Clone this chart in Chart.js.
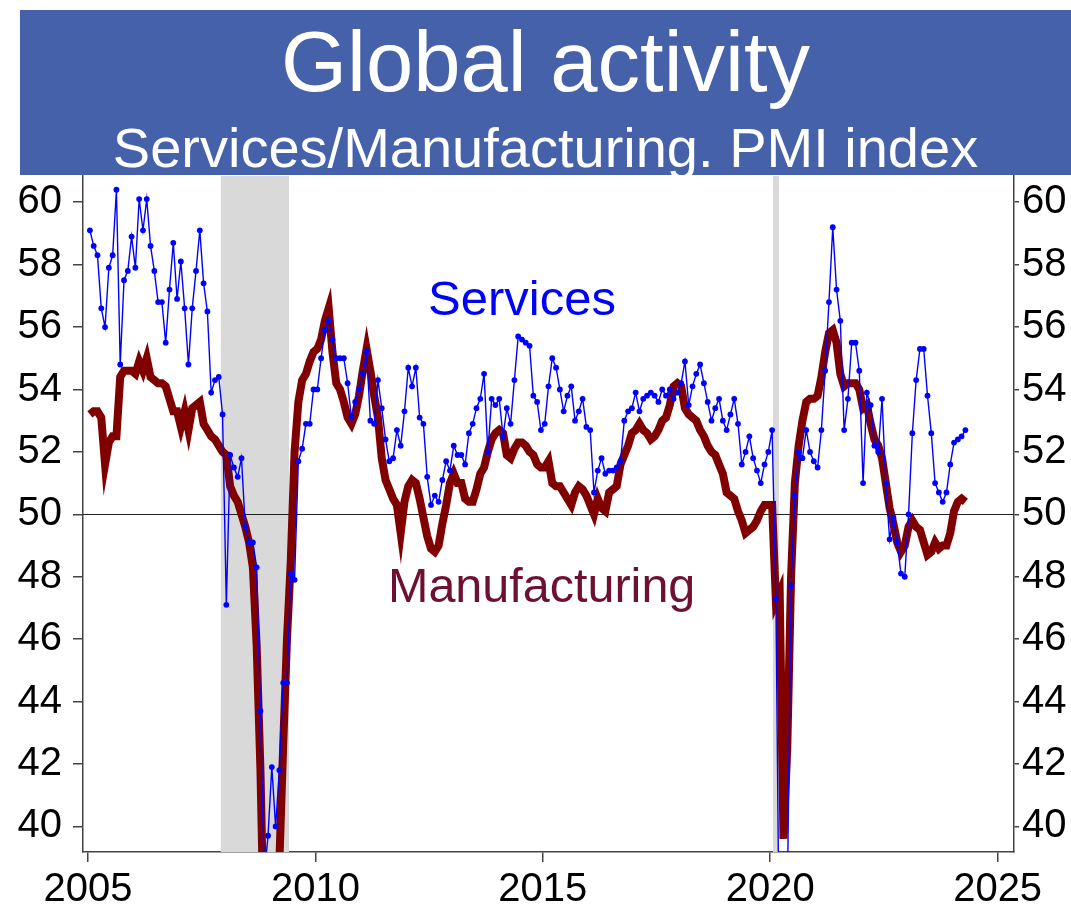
<!DOCTYPE html>
<html>
<head>
<meta charset="utf-8">
<title>Global activity</title>
<script src="https://cdn.jsdelivr.net/npm/chart.js@4/dist/chart.umd.min.js"></script>
<style>
  html, body { margin: 0; padding: 0; background: #fff; }
  #wrap { position: relative; width: 1071px; height: 908px; overflow: hidden; font-family: "Liberation Sans", Arial, sans-serif; }
  #chart { position: absolute; left: 0; top: 0; }
  .banner { position: absolute; left: 20px; top: 10px; width: 1051px; height: 165px; background: #4561a9; z-index: 2; }
  .banner div { position: absolute; left: 0; width: 100%; text-align: center; color: #fff; line-height: 1; white-space: nowrap; }
  .title { top: 9px; font-size: 85px; }
  .subtitle { top: 110px; font-size: 56px; }
  .tag { position: absolute; line-height: 1; white-space: nowrap; z-index: 2; }
  .tag.svc { left: 428px; top: 274px; font-size: 49px; color: #0000ff; }
  .tag.mfg { left: 388px; top: 561px; font-size: 48.5px; color: #6e1030; }
</style>
</head>
<body>
<div id="wrap">
  <canvas id="chart" width="1071" height="908"></canvas>
  <div class="banner">
    <div class="title">Global activity</div>
    <div class="subtitle">Services/Manufacturing. PMI index</div>
  </div>
  <div class="tag svc">Services</div>
  <div class="tag mfg">Manufacturing</div>
</div>
<script>
// Monthly PMI readings, January 2005 onwards (one row per year)
const startYear = 2005;

const services = [
  59.1, 58.6, 58.3, 56.6, 56.0, 57.9, 58.3, 60.4, 54.8, 57.5, 57.8, 58.9,
  57.9, 60.1, 59.1, 60.1, 58.6, 57.8, 56.8, 56.8, 55.5, 57.2, 58.7, 56.9,
  58.1, 56.6, 54.8, 56.6, 57.8, 59.1, 57.4, 56.5, 53.9, 54.3, 54.4, 53.2,
  47.1, 51.9, 51.5, 51.2, 51.8, 49.6, 49.1, 49.1, 48.3, 43.7, 38.4, 39.7,
  41.9, 40.0, 41.8, 44.6, 44.6, 48.1, 47.9, 51.7, 52.1, 52.9, 52.9, 54.0,
  54.0, 55.0, 55.9, 56.2, 55.6, 55.0, 55.0, 55.0, 54.2, 53.1, 53.6, 54.0,
  54.5, 55.2, 53.0, 52.9, 54.3, 53.4, 52.4, 51.7, 51.8, 52.7, 52.2, 53.3,
  54.7, 54.1, 54.7, 53.1, 52.9, 51.2, 50.3, 50.6, 50.4, 51.1, 51.7, 51.4,
  52.2, 51.9, 51.9, 51.6, 52.6, 52.9, 53.4, 53.7, 54.5, 52.0, 53.7, 53.5,
  53.7, 52.5, 53.4, 52.9, 54.3, 55.7, 55.6, 55.5, 55.4, 53.8, 53.6, 52.7,
  52.9, 54.1, 55.0, 54.7, 54.0, 53.3, 53.8, 54.1, 53.0, 53.3, 53.7, 52.8,
  52.7, 50.7, 51.4, 51.8, 51.3, 51.4, 51.4, 51.5, 51.7, 53.0, 53.3, 53.4,
  53.9, 53.3, 53.7, 53.8, 53.9, 53.8, 53.6, 54.0, 53.8, 54.0, 53.7, 53.9,
  54.2, 54.9, 53.5, 54.1, 54.5, 54.8, 54.2, 53.6, 53.0, 53.4, 53.7, 53.0,
  52.7, 53.2, 53.7, 52.9, 51.6, 52.0, 52.5, 51.8, 51.4, 51.0, 51.6, 52.0,
  52.7, 47.3, 34.5, 24.0, 37.5, 47.7, 50.6, 52.0, 51.8, 52.7, 52.0, 51.7,
  51.5, 52.7, 54.6, 56.8, 59.2, 57.2, 56.2, 52.7, 53.7, 55.5, 55.5, 54.6,
  51.0, 53.9, 53.5, 52.2, 52.0, 53.7, 51.0, 49.2, 49.9, 49.1, 48.1, 48.0,
  50.0, 52.6, 54.3, 55.3, 55.3, 53.8, 52.6, 51.0, 50.7, 50.4, 50.7, 51.6,
  52.3, 52.4, 52.5, 52.7
];

const manufacturing = [
  53.2, 53.3, 53.3, 53.1, 51.6, 52.3, 52.5, 52.5, 54.4, 54.6, 54.6, 54.6,
  54.5, 54.9, 54.6, 55.0, 54.4, 54.3, 54.2, 54.2, 54.1, 53.7, 53.3, 53.3,
  52.8, 53.3, 52.7, 53.4, 53.5, 53.6, 52.9, 52.7, 52.5, 52.4, 52.2, 52.0,
  51.9, 50.9, 50.6, 50.4, 50.0, 49.6, 49.1, 48.3, 45.8, 41.8, 36.0, 33.7,
  34.4, 35.0, 38.9, 42.6, 46.0, 48.5, 52.0, 53.6, 54.3, 54.5, 54.9, 55.2,
  55.3, 55.6, 56.2, 56.6, 55.2, 54.2, 54.0, 53.6, 53.1, 52.9, 53.2, 53.8,
  54.6, 55.3, 54.6, 53.8, 53.1, 51.8, 51.1, 50.8, 50.5, 50.3, 49.4, 50.4,
  50.9, 51.1, 51.0, 50.5, 49.9, 49.3, 48.9, 48.8, 49.0, 49.7, 50.3, 51.0,
  51.3, 51.0, 51.0, 50.5, 50.4, 50.4, 50.8, 51.3, 51.5, 52.0, 52.4, 52.6,
  52.7, 52.6, 51.9, 51.8, 52.1, 52.3, 52.3, 52.2, 52.0, 51.9, 51.6, 51.5,
  51.5, 51.7, 51.0, 50.9, 50.9, 50.7, 50.5, 50.3, 50.7, 50.9, 50.8, 50.6,
  50.3, 50.0, 50.5, 50.2, 50.1, 50.7, 50.8, 50.9, 51.6, 51.9, 52.2, 52.6,
  52.7, 52.9, 52.7, 52.6, 52.4, 52.5, 52.7, 53.0, 53.1, 53.5, 54.1, 54.2,
  54.1, 53.4, 53.2, 53.1, 53.0, 52.7, 52.5, 52.2, 52.0, 51.9, 51.6, 51.3,
  50.7, 50.6, 50.5, 50.1, 49.8, 49.4, 49.5, 49.6, 49.8, 50.1, 50.3, 50.3,
  50.3, 47.2, 47.5, 39.6, 42.5, 48.0, 51.0, 52.2, 53.0, 53.6, 53.7, 53.7,
  53.8, 54.4, 55.2, 55.8, 55.9, 55.5, 54.5, 54.1, 54.2, 54.2, 54.2, 54.0,
  53.4, 53.5, 52.9, 52.4, 52.2, 51.8, 51.0, 50.2, 49.7, 49.1, 48.8, 49.0,
  49.6, 49.8, 49.6, 49.5, 49.1, 48.7, 48.8, 49.1, 48.9, 49.0, 49.0, 49.4,
  50.1, 50.4, 50.5, 50.4
];

const xTicks = [2005, 2010, 2015, 2020, 2025];
const yTicks = [40, 42, 44, 46, 48, 50, 52, 54, 56, 58, 60];

// US recessions (decimal years), shaded grey
const recessions = [[2007.92, 2009.42], [2020.06, 2020.19]];

const FONT = '"Liberation Sans", Arial, sans-serif';
const AXIS = '#444';

// place each month in the middle of its slot on a decimal-year axis
function toPoints(values) {
  return values.map((v, i) => ({ x: startYear + (i + 0.5) / 12, y: v }));
}

const shading = {
  id: 'shading',
  beforeDatasetsDraw(chart) {
    const { ctx, chartArea, scales } = chart;
    ctx.save();
    ctx.fillStyle = '#d9d9d9';
    recessions.forEach(([a, b]) => {
      const x0 = scales.x.getPixelForValue(a);
      const x1 = scales.x.getPixelForValue(b);
      ctx.fillRect(x0, chartArea.top, x1 - x0, chartArea.bottom - chartArea.top);
    });
    // 50 = expansion / contraction threshold
    const y50 = Math.round(scales.y.getPixelForValue(50)) + 0.5;
    ctx.strokeStyle = '#222';
    ctx.lineWidth = 1;
    ctx.beginPath();
    ctx.moveTo(chartArea.left, y50);
    ctx.lineTo(chartArea.right, y50);
    ctx.stroke();
    ctx.restore();
  }
};

const yAxisBase = {
  type: 'linear',
  min: 39.18,
  max: 60.84,
  afterBuildTicks: s => { s.ticks = yTicks.map(v => ({ value: v })); },
  border: { display: true, color: AXIS, width: 1.5 },
  ticks: { color: '#000', font: { family: FONT, size: 40 }, callback: v => String(v) }
};

new Chart(document.getElementById('chart'), {
  type: 'line',
  data: {
    datasets: [{
      label: 'Services',
      data: toPoints(services),
      borderColor: '#0000ff',
      backgroundColor: '#0000ff',
      borderWidth: 1.4,
      pointRadius: 2.9,
      pointBorderWidth: 0,
      pointBackgroundColor: '#0000ff',
      tension: 0,
      clip: 0,
      order: 0
    }, {
      label: 'Manufacturing',
      data: toPoints(manufacturing),
      borderColor: '#800000',
      backgroundColor: '#800000',
      borderWidth: 8,
      pointRadius: 0,
      tension: 0,
      clip: 0,
      order: 1
    }]
  },
  options: {
    responsive: false,
    animation: false,
    devicePixelRatio: 1,
    layout: { padding: { top: 176, left: 0, right: 0, bottom: 0 } },
    plugins: { legend: { display: false }, tooltip: { enabled: false } },
    scales: {
      x: {
        type: 'linear',
        position: 'bottom',
        min: 2004.89,
        max: 2025.36,
        afterBuildTicks: s => { s.ticks = xTicks.map(v => ({ value: v })); },
        afterFit: s => { s.height = 56; },
        grid: { drawOnChartArea: false, drawTicks: true, tickLength: 10, color: AXIS, lineWidth: 1.5 },
        border: { display: true, color: AXIS, width: 1.5 },
        ticks: { color: '#000', font: { family: FONT, size: 40 }, padding: 4, maxRotation: 0, callback: v => String(v) }
      },
      y: Object.assign({}, yAxisBase, {
        position: 'left',
        afterFit: s => { s.width = 83; },
        grid: { drawOnChartArea: false, drawTicks: true, tickLength: 10, color: AXIS, lineWidth: 1.5 },
        ticks: Object.assign({}, yAxisBase.ticks, { padding: 11 })
      }),
      y2: Object.assign({}, yAxisBase, {
        position: 'right',
        afterFit: s => { s.width = 57; },
        grid: { drawOnChartArea: false, drawTicks: true, tickLength: 5, color: AXIS, lineWidth: 1.5 },
        ticks: Object.assign({}, yAxisBase.ticks, { padding: 3 })
      })
    }
  },
  plugins: [shading]
});
</script>
</body>
</html>
